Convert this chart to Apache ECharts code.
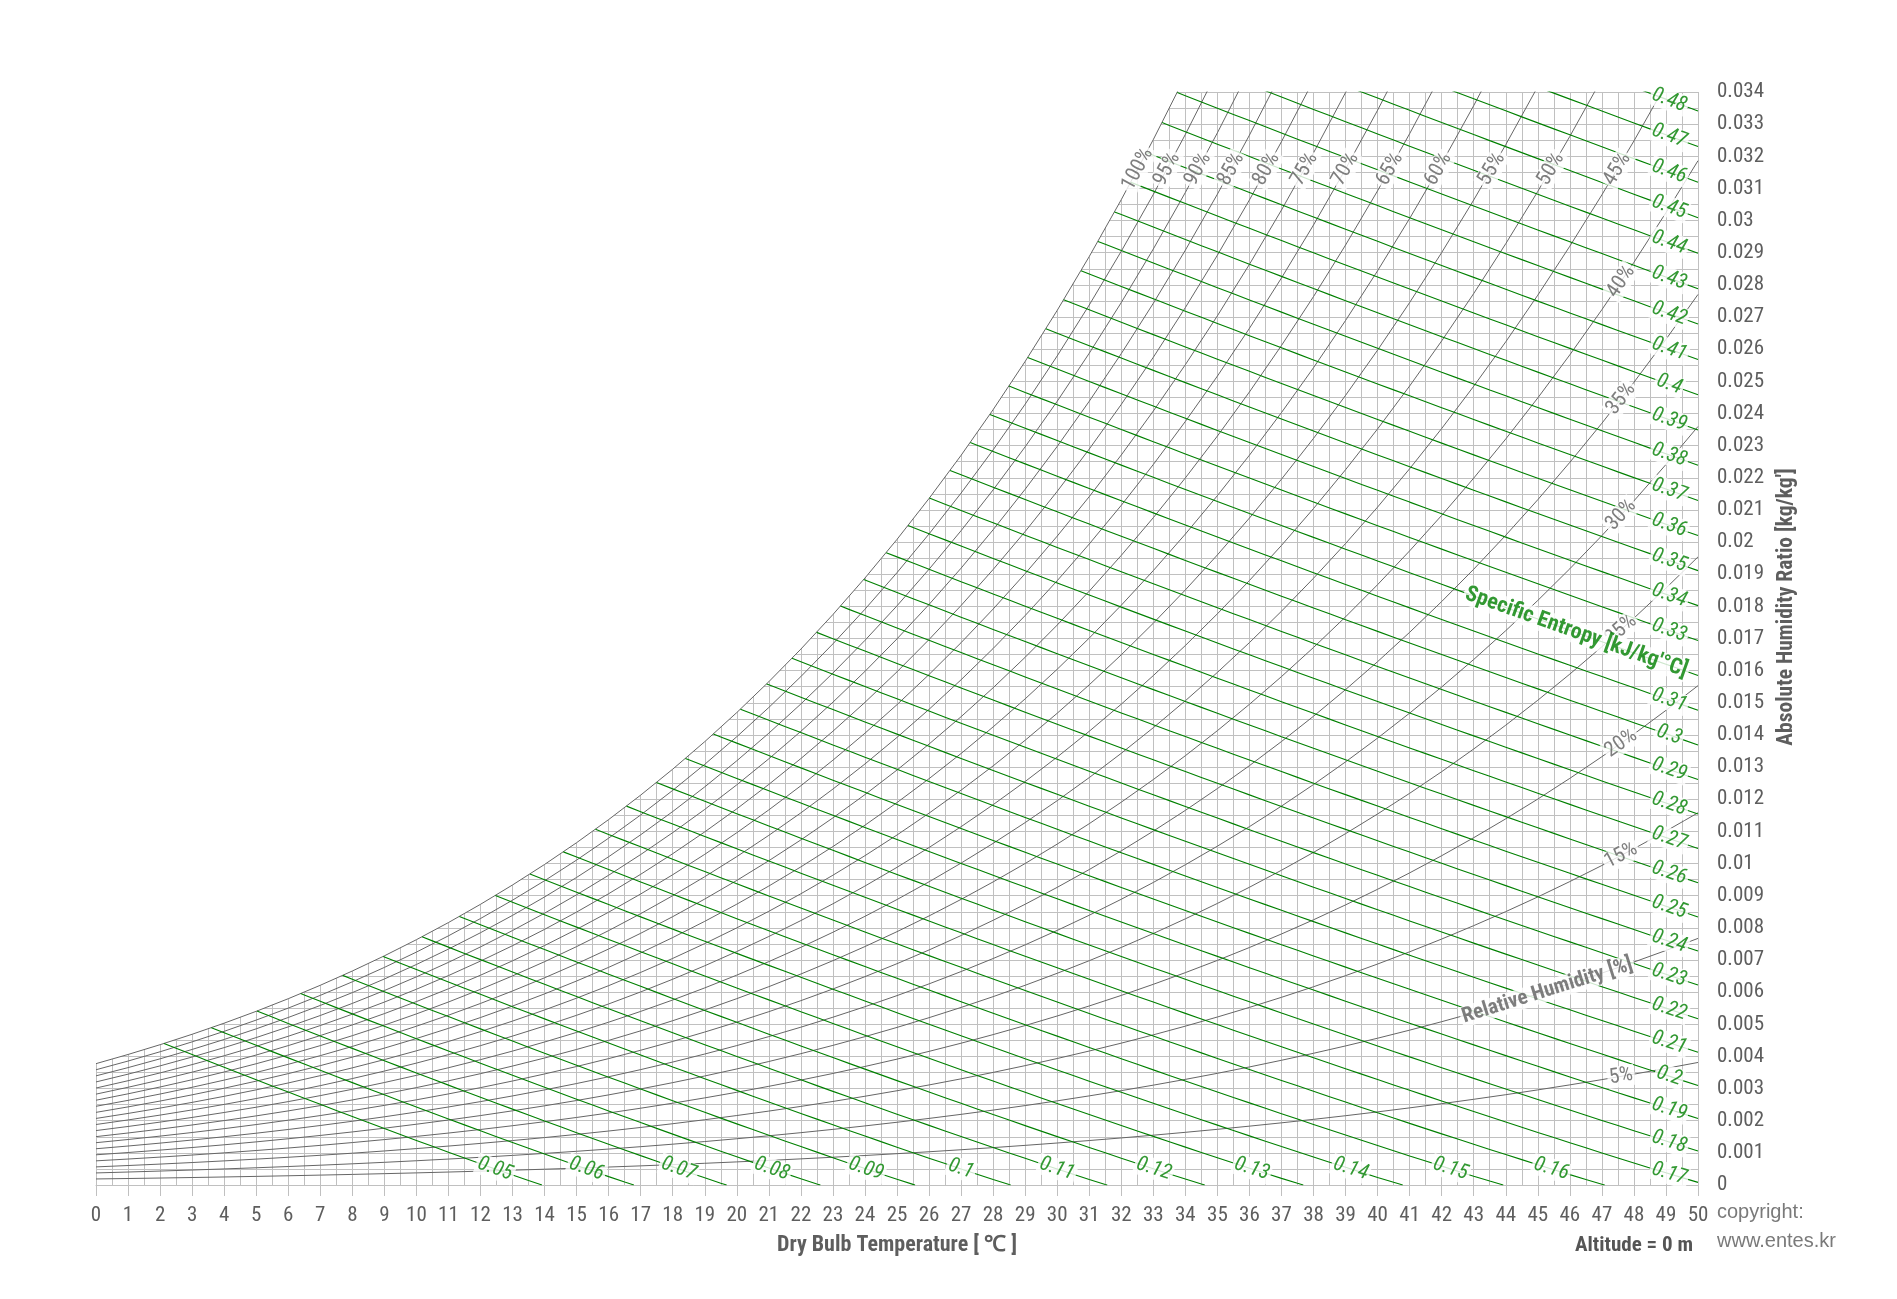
<!DOCTYPE html>
<html>
<head>
<meta charset="utf-8">
<script src="https://cdn.jsdelivr.net/npm/echarts@6/dist/echarts.min.js"></script>
<style>
html,body{margin:0;padding:0;background:#fff;}
#chart{width:1897px;height:1299px;}
</style>
</head>
<body>
<div id="chart"></div>
<script>
// ---------------- data ----------------
const temperatures = [0,1,2,3,4,5,6,7,8,9,10,11,12,13,14,15,16,17,18,19,20,21,22,23,24,25,26,27,28,29,30,31,32,33,34,35,36,37,38,39,40,41,42,43,44,45,46,47,48,49,50];
// saturation vapour pressure of water [kPa] at each dry bulb temperature
const satPressureKPa = [0.6112,0.6571,0.7060,0.7581,0.8135,0.8725,0.9353,1.0020,1.0729,1.1481,1.2280,1.3127,1.4026,1.4979,1.5987,1.7055,1.8185,1.9380,2.0643,2.1979,2.3389,2.4878,2.6448,2.8105,2.9852,3.1693,3.3633,3.5674,3.7823,4.0084,4.2462,4.4961,4.7586,5.0345,5.3242,5.6280,5.9468,6.2812,6.6315,6.9988,7.3838,7.7866,8.2081,8.6495,9.1110,9.5935,10.098,10.624,11.173,11.747,12.344];
const rhLevels = [5,10,15,20,25,30,35,40,45,50,55,60,65,70,75,80,85,90,95,100];
const entropyLevels = [0.05,0.06,0.07,0.08,0.09,0.1,0.11,0.12,0.13,0.14,0.15,0.16,0.17,0.18,0.19,0.2,0.21,0.22,0.23,0.24,0.25,0.26,0.27,0.28,0.29,0.3,0.31,0.32,0.33,0.34,0.35,0.36,0.37,0.38,0.39,0.4,0.41,0.42,0.43,0.44,0.45,0.46,0.47,0.48];
const pressureKPa = 101.325;       // altitude 0 m
const xRange = [0, 50];
const yRange = [0, 0.034];
const entropyCoef = {cpa:1.006, cpv:1.86, s0:8.017, mix:0.287};

// ---------------- psychrometric relations ----------------
const T0 = 273.15;
function pws(T){
  if (T <= temperatures[0]) return satPressureKPa[0];
  if (T >= temperatures[temperatures.length-1]) return satPressureKPa[satPressureKPa.length-1];
  const i = Math.floor(T), f = T - i;
  return Math.exp(Math.log(satPressureKPa[i])*(1-f) + Math.log(satPressureKPa[i+1])*f);
}
function wFromPv(pv){ return 0.622*pv/(pressureKPa - pv); }
function wRH(T, rh){ return wFromPv(rh/100*pws(T)); }
function entropy(T, W){
  const x = Math.log((T+T0)/T0);
  return entropyCoef.cpa*x + W*(entropyCoef.s0 + entropyCoef.cpv*x - entropyCoef.mix*Math.log(W));
}
function wOnEntropy(T, s){
  const sd = entropyCoef.cpa*Math.log((T+T0)/T0);
  if (sd >= s) return 0;
  let lo = 1e-10, hi = 0.08;
  for (let k=0;k<60;k++){ const m=(lo+hi)/2; if (entropy(T,m) < s) lo=m; else hi=m; }
  return (lo+hi)/2;
}
function entropyEnds(s){
  const tDry = T0*Math.exp(s/entropyCoef.cpa) - T0;
  const tEnd = Math.min(xRange[1], tDry);
  let tStart = 0;
  if (wOnEntropy(0,s) > wRH(0,100)){
    let lo=0, hi=tEnd;
    for (let k=0;k<60;k++){ const m=(lo+hi)/2; if (wOnEntropy(m,s) > wRH(m,100)) lo=m; else hi=m; }
    tStart=(lo+hi)/2;
  }
  return [tStart, tEnd];
}
function entropyLine(s){
  const [tStart, tEnd] = entropyEnds(s);
  const pts = [[tStart, wOnEntropy(tStart,s)]];
  for (let t=Math.ceil(tStart*2)/2; t<tEnd; t+=0.5){ if (t>tStart+1e-6) pts.push([t, wOnEntropy(t,s)]); }
  pts.push([tEnd, wOnEntropy(tEnd,s)]);
  return pts;
}
function tOnEntropyAtW(s, w){
  const [tStart, tEnd] = entropyEnds(s);
  let lo=tStart, hi=tEnd;
  for (let k=0;k<60;k++){ const m=(lo+hi)/2; if (wOnEntropy(m,s) > w) lo=m; else hi=m; }
  return (lo+hi)/2;
}
function tOnRHAtW(rh, w){
  let lo=0, hi=50;
  for (let k=0;k<60;k++){ const m=(lo+hi)/2; if (wRH(m,rh) < w) lo=m; else hi=m; }
  return (lo+hi)/2;
}

// ---------------- styles ----------------
const FONT = "'Liberation Sans Narrow','Arial Narrow','Roboto Condensed','Liberation Sans',sans-serif";
const GRID_C = '#c0c0c0';
const RH_C = '#666666';
const GREEN = '#008000';
const TEXT_C = '#5e5e5e';

const chart = echarts.init(document.getElementById('chart'), null, {renderer:'canvas'});

const rhSeries = rhLevels.map(rh => ({
  type:'line', name:'RH '+rh+'%',
  data: temperatures.map((t,i) => [t, wFromPv(rh/100*satPressureKPa[i])]),
  symbol:'none', clip:true, silent:true, z:3,
  lineStyle:{color:RH_C, width:1}
}));
const entropySeries = entropyLevels.map(s => ({
  type:'line', name:'s '+s,
  data: entropyLine(s),
  symbol:'none', clip:true, silent:true, z:4,
  lineStyle:{color:GREEN, width:1.1}
}));
const maskSeries = {
  type:'custom', name:'mask', silent:true, z:2, clip:false,
  data:[[0,0]],
  renderItem:(params, api) => {
    const pts = [];
    for (let i=0;i<temperatures.length;i++){
      const w = wFromPv(satPressureKPa[i]);
      pts.push(api.coord([temperatures[i], w]));
      if (w > yRange[1]) break;
    }
    const last = pts[pts.length-1];
    const top = api.coord([0, yRange[1]])[1] - 3;
    const left = api.coord([0, 0])[0] - 3;
    const first = pts[0];
    pts.push([last[0], top]);
    pts.push([left, top]);
    pts.push([left, first[1]]);
    return {type:'polygon', shape:{points:pts}, style:{fill:'#ffffff'}};
  }
};

function fmtNum(v){ return String(+(+v).toFixed(3)); }

function labelStyle(extra){
  return Object.assign({
    show:true, position:'inside', align:'center', verticalAlign:'middle',
    fontFamily:FONT, fontSize:21, backgroundColor:'#ffffff', padding:[0,2]
  }, extra);
}

function buildLabels(angleFn){
  const items = [];
  rhLevels.forEach(rh => {
    let t;
    if (rh >= 45) t = tOnRHAtW(rh, 0.0316); else t = 47.6;
    const fn = x => wRH(x, rh);
    if (rh === 10){
      const tt = 45.3;
      items.push({value:[tt, fn(tt)], label:labelStyle({formatter:'Relative Humidity [%]', rotate:angleFn(fn,tt), color:TEXT_C, fontWeight:'bold', fontSize:21})});
      return;
    }
    items.push({value:[t, fn(t)], label:labelStyle({formatter:rh+'%', rotate:angleFn(fn,t), color:TEXT_C})});
  });
  entropyLevels.forEach(s => {
    const fn = x => wOnEntropy(x, s);
    const key = Math.round(s*100);
    if (key === 32){
      const tt = 46.2;
      items.push({value:[tt, fn(tt)], label:labelStyle({formatter:"Specific Entropy [kJ/kg'°C]", rotate:angleFn(fn,tt), color:GREEN, fontWeight:'bold', fontSize:22})});
      return;
    }
    const [, tEnd] = entropyEnds(s);
    let t;
    if (tEnd >= 49.9) t = 49.1; else t = tOnEntropyAtW(s, 0.0005);
    items.push({value:[t, fn(t)], label:labelStyle({formatter:fmtNum(s), rotate:angleFn(fn,t), color:GREEN, fontStyle:'italic'})});
  });
  return items;
}

const option = {
  animation:false,
  backgroundColor:'#ffffff',
  grid:{left:96, right:199, top:92, bottom:114, containLabel:false},
  xAxis:{
    type:'value', min:xRange[0], max:xRange[1], interval:1,
    axisLine:{show:true, lineStyle:{color:GRID_C, width:1}},
    axisTick:{show:true, length:11, lineStyle:{color:GRID_C, width:1}},
    axisLabel:{color:TEXT_C, fontFamily:FONT, fontSize:21, margin:20},
    splitLine:{show:true, lineStyle:{color:GRID_C, width:1}},
    minorTick:{show:false, splitNumber:2},
    minorSplitLine:{show:true, lineStyle:{color:GRID_C, width:1}}
  },
  yAxis:{
    type:'value', position:'right', min:yRange[0], max:yRange[1], interval:0.001,
    axisLine:{show:true, lineStyle:{color:GRID_C, width:1}},
    axisTick:{show:true, length:11, lineStyle:{color:GRID_C, width:1}},
    axisLabel:{color:TEXT_C, fontFamily:FONT, fontSize:21, margin:19, formatter:fmtNum},
    splitLine:{show:true, lineStyle:{color:GRID_C, width:1}},
    minorTick:{show:false, splitNumber:2},
    minorSplitLine:{show:true, lineStyle:{color:GRID_C, width:1}}
  },
  graphic:[
    {type:'text', x:897, y:1245, z:10, style:{text:'Dry Bulb Temperature [ ℃ ]', fill:TEXT_C, font:"bold 22px "+FONT, align:'center', verticalAlign:'middle', textAlign:'center', textVerticalAlign:'middle'}},
    {type:'text', x:1693, y:1246, z:10, style:{text:'Altitude = 0 m', fill:'#555555', font:"bold 21px "+FONT, align:'right', verticalAlign:'middle', textAlign:'right', textVerticalAlign:'middle'}},
    {type:'text', x:1717, y:1212, z:10, style:{text:'copyright:', fill:'#7a7a7a', font:"20px 'Liberation Sans',Arial,sans-serif", align:'left', verticalAlign:'middle', textAlign:'left', textVerticalAlign:'middle'}},
    {type:'text', x:1717, y:1241, z:10, style:{text:'www.entes.kr', fill:'#7a7a7a', font:"20px 'Liberation Sans',Arial,sans-serif", align:'left', verticalAlign:'middle', textAlign:'left', textVerticalAlign:'middle'}},
    {type:'text', x:1787, y:607, rotation:Math.PI/2, z:10, style:{text:"Absolute Humidity Ratio [kg/kg']", fill:TEXT_C, font:"bold 21.5px "+FONT, align:'center', verticalAlign:'middle', textAlign:'center', textVerticalAlign:'middle'}}
  ],
  series:[maskSeries].concat(rhSeries, entropySeries, [{
    id:'labels', type:'scatter', name:'labels', silent:true, z:6,
    symbolSize:1, itemStyle:{color:'rgba(0,0,0,0)'},
    data: buildLabels(() => 0)
  }])
};
chart.setOption(option);

function angleFn(fn, t){
  const d = 0.15;
  const p1 = chart.convertToPixel({gridIndex:0}, [t-d, fn(t-d)]);
  const p2 = chart.convertToPixel({gridIndex:0}, [t+d, fn(t+d)]);
  return -Math.atan2(p2[1]-p1[1], p2[0]-p1[0]) * 180 / Math.PI;
}
chart.setOption({series:[{id:'labels', data: buildLabels(angleFn)}]});
</script>
</body>
</html>
